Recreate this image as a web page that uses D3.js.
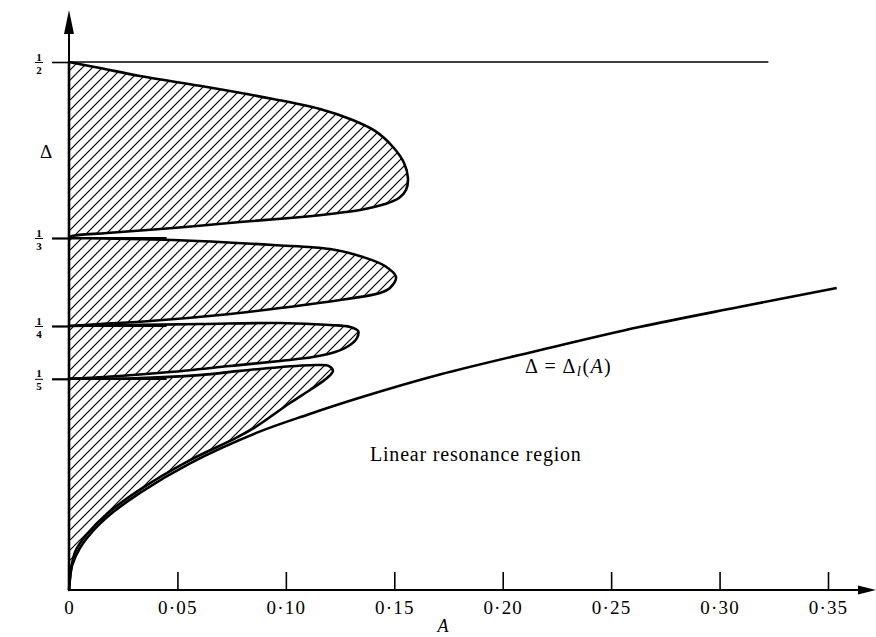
<!DOCTYPE html>
<html>
<head>
<meta charset="utf-8">
<script src="https://cdn.jsdelivr.net/npm/d3@7"></script>
<style>
body{margin:0;background:#fff}
svg{display:block}
text{font-family:"Liberation Serif","Times New Roman",serif;fill:#000}
</style>
</head>
<body>
<div id="graph"></div>
<script>
!(function(){
"use strict"
var width = 876, height = 637

// axis ticks
var aTicks = [0, 0.05, 0.10, 0.15, 0.20, 0.25, 0.30, 0.35]
var deltaTicks = [1/2, 1/3, 1/4, 1/5]
var deltaDen = ["2", "3", "4", "5"]
var guideEnds = [0.3225, 0.045, 0.045, 0.045] // how far each Δ = 1/n line runs

// resonance lobes, [A, Δ]
var lobe1 = [[0,0.5],[0.0143,0.4943],[0.0327,0.4867],[0.0636,0.4763],[0.0941,0.465],[0.1157,0.4555],[0.1296,0.446],
	[0.1411,0.4347],[0.1494,0.4195],[0.1545,0.4044],[0.1563,0.3902],[0.1554,0.3788],[0.1522,0.3712],[0.1457,0.3655],
	[0.1342,0.3598],[0.1204,0.3561],[0.1019,0.3523],[0.0789,0.3485],[0.048,0.3428],[0.0175,0.3381],[0.0014,0.3352],[0,0.3333]]
var lobe2 = [[0,0.3333],[0.048,0.3314],[0.0941,0.3267],[0.1204,0.3229],[0.1356,0.3153],[0.1457,0.3068],[0.1508,0.2964],
	[0.148,0.286],[0.1434,0.2813],[0.1282,0.2756],[0.0973,0.267],[0.0696,0.2604],[0.0374,0.2547],[0.0143,0.2519],[0,0.25]]
var lobe3 = [[0,0.25],[0.0604,0.2519],[0.0973,0.2528],[0.1204,0.2509],[0.1296,0.2491],[0.1333,0.2453],[0.1328,0.2386],
	[0.1296,0.232],[0.1227,0.2254],[0.1125,0.2206],[0.0973,0.2169],[0.0742,0.2121],[0.0466,0.2064],[0.0235,0.2027],[0,0.2]]
var lobe4 = [[0,0.2],[0.03,0.2005],[0.06,0.2035],[0.0789,0.2075],[0.0941,0.2105],[0.1144,0.213],[0.1199,0.2121],
	[0.1217,0.2074],[0.119,0.2008],[0.1111,0.1894],[0.1019,0.1771],[0.0867,0.1553],[0.0775,0.1445],[0.0558,0.123],
	[0.0327,0.095],[0.0175,0.072],[0.0088,0.054],[0.0028,0.036],[0,0]]
// boundary of the linear resonance region
var deltaL = [[0,0],[0.0014,0.023],[0.0051,0.04],[0.012,0.058],[0.0175,0.069],[0.0327,0.092],[0.0558,0.12],
	[0.0867,0.149],[0.11,0.166],[0.134,0.182],[0.171,0.204],[0.217,0.227],[0.263,0.249],[0.309,0.268],[0.354,0.286]]

var svg = d3.select("#graph").append("svg").attr("width", width).attr("height", height)

var x = d3.scaleLinear().domain([0, 0.35]).range([69, 828])
var y = d3.scaleLinear().domain([0, 0.5]).range([590, 62])

var defs = svg.append("defs")
defs.append("pattern")
	.attr("id", "hatch")
	.attr("patternUnits", "userSpaceOnUse")
	.attr("width", 10).attr("height", 10)
	.append("path")
	.attr("d", "M-5,5 L5,-5 M0,10 L10,0 M5,15 L15,5")
	.attr("stroke", "#000").attr("stroke-width", 1.2)

var line = d3.line()
	.x(function(d){ return x(d[0]) })
	.y(function(d){ return y(d[1]) })
	.curve(d3.curveCatmullRom.alpha(0.5))

// lobes
svg.append("g").selectAll("path")
	.data([lobe1, lobe2, lobe3, lobe4])
	.enter().append("path")
	.attr("d", function(d){ return line(d) + "Z" })
	.attr("fill", "url(#hatch)")
	.attr("stroke", "#000")
	.attr("stroke-width", 2.6)
	.attr("stroke-linejoin", "round")

svg.append("path")
	.attr("d", line(deltaL))
	.attr("fill", "none")
	.attr("stroke", "#000")
	.attr("stroke-width", 2.6)

// Δ = 1/n guide lines
svg.append("g").selectAll("line")
	.data(deltaTicks)
	.enter().append("line")
	.attr("x1", x(0)).attr("x2", function(d, i){ return x(guideEnds[i]) })
	.attr("y1", function(d){ return y(d) }).attr("y2", function(d){ return y(d) })
	.attr("stroke", "#000")
	.attr("stroke-width", function(d, i){ return i ? 2.2 : 1.6 })

// x axis
var xAxis = d3.axisBottom(x)
	.tickValues(aTicks)
	.tickSize(-18)
	.tickPadding(11)
	.tickFormat(function(d){ return d === 0 ? "0" : d3.format(".2f")(d).replace(".", "\u00b7") })
var gx = svg.append("g").attr("transform", "translate(0," + y(0) + ")").call(xAxis)
gx.select(".domain").remove()
gx.selectAll(".tick line").attr("stroke-width", 1.6)
gx.selectAll(".tick text")
	.attr("font-family", "Liberation Serif, serif")
	.attr("font-size", 19)
	.attr("letter-spacing", 1.2)

// y axis (ticks point left, labels drawn as stacked fractions)
var yAxis = d3.axisLeft(y).tickValues(deltaTicks).tickSize(17).tickFormat("")
var gy = svg.append("g").attr("transform", "translate(" + x(0) + ",0)").call(yAxis)
gy.select(".domain").remove()
gy.selectAll(".tick line").attr("stroke-width", function(d, i){ return i ? 2.2 : 1.6 })
gy.selectAll(".tick").each(function(d, i){
	var t = d3.select(this)
	t.append("text").attr("x", -30).attr("y", -2).attr("text-anchor", "middle")
		.attr("font-size", 11).attr("font-weight", "bold").text("1")
	t.append("line").attr("x1", -34).attr("x2", -26).attr("y1", 0).attr("y2", 0)
		.attr("stroke", "#000").attr("stroke-width", 1)
	t.append("text").attr("x", -30).attr("y", 11).attr("text-anchor", "middle")
		.attr("font-size", 11).attr("font-weight", "bold").text(deltaDen[i])
})

// axis lines with arrow heads
svg.append("line").attr("x1", x(0)).attr("x2", 862).attr("y1", y(0)).attr("y2", y(0))
	.attr("stroke", "#000").attr("stroke-width", 2)
svg.append("path").attr("d", "M876," + y(0) + " L858," + (y(0) - 4.5) + " L858," + (y(0) + 4.5) + "Z")
svg.append("line").attr("x1", x(0)).attr("x2", x(0)).attr("y1", y(0)).attr("y2", 28)
	.attr("stroke", "#000").attr("stroke-width", 2)
svg.append("path").attr("d", "M" + x(0) + ",10 L" + (x(0) - 5) + ",34 L" + (x(0) + 5) + ",34Z")

// labels
svg.append("text").attr("x", 443).attr("y", 632).attr("text-anchor", "middle")
	.attr("font-size", 18).attr("font-style", "italic").text("A")
svg.append("text").attr("x", 46).attr("y", 158).attr("text-anchor", "middle")
	.attr("font-size", 19).text("\u0394")

svg.append("text").attr("x", 370).attr("y", 461)
	.attr("font-size", 20).attr("letter-spacing", 0.8).text("Linear resonance region")

var lab = svg.append("text").attr("x", 525).attr("y", 373).attr("font-size", 20).attr("letter-spacing", 1.4)
lab.append("tspan").text("\u0394 = \u0394")
lab.append("tspan").attr("font-style", "italic").attr("font-size", 15).attr("dy", 3).text("l")
lab.append("tspan").attr("dy", -3).text("(")
lab.append("tspan").attr("font-style", "italic").text("A")
lab.append("tspan").text(")")
}());
</script>
</body>
</html>
